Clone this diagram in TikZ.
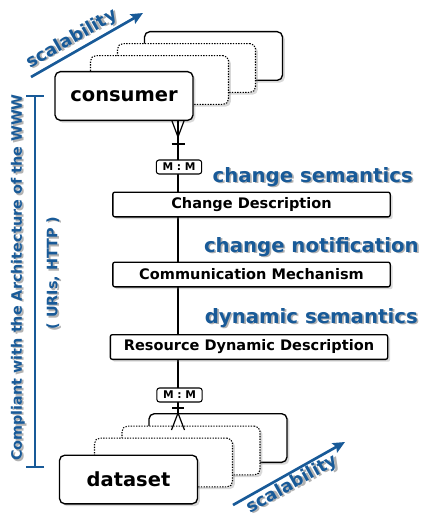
\documentclass[tikz,border=0pt]{standalone}
\usepackage{fontspec}
\setmainfont{DejaVu Sans}
\usetikzlibrary{positioning}
\usetikzlibrary{shadows}
\usetikzlibrary{arrows.meta}
\definecolor{wwwblue}{RGB}{24,90,152}
\tikzset{entity/.style={draw,line width=1pt,rounded corners=4pt,fill=white,minimum width=103.5pt,minimum height=36.5pt,font=\bfseries\fontsize{14.6}{16}\selectfont,drop shadow={shadow xshift=1.8pt,shadow yshift=-1.8pt,opacity=.3}}}
\tikzset{ghost/.style={entity,densely dotted,line width=.8pt}}
\tikzset{layer/.style={draw,line width=1pt,rounded corners=1.5pt,fill=white,minimum width=208pt,minimum height=18.5pt,inner sep=1pt,font=\bfseries\fontsize{10.9}{12}\selectfont,drop shadow={shadow xshift=1.8pt,shadow yshift=-1.8pt,opacity=.3}}}
\tikzset{card/.style={draw,line width=.8pt,rounded corners=2pt,fill=white,inner sep=1pt,minimum width=34pt,minimum height=10.5pt,font=\bfseries\fontsize{8}{9}\selectfont}}
\tikzset{link/.style={line width=.9pt}}
\tikzset{aspect/.style={text=wwwblue,inner sep=0pt,font=\bfseries\fontsize{14.8}{16}\selectfont}}
\tikzset{note/.style={aspect,font=\bfseries\fontsize{10.8}{12}\selectfont}}
\tikzset{slogan/.style={aspect,font=\bfseries\fontsize{13.2}{15}\selectfont}}
\tikzset{textshade/.style={text=black,opacity=.3,xshift=1.3pt,yshift=-1.3pt}}
\tikzset{scalearrow/.style={wwwblue,line width=2pt,-{Stealth[length=9pt,width=8pt,inset=1.5pt]}}}
\tikzset{brace/.style={wwwblue,line width=1.5pt,{Bar[width=13.5pt]}-{Bar[width=13.5pt]}}}

\begin{document}
\begin{tikzpicture}[x=0.75pt,y=-0.75pt]
    \useasboundingbox (0,0) rectangle (422,517);
    % consumer stack, back to front
    \node[entity] (cback) at (213.5,56) {};
    \node[ghost] (cmid2) at (186.5,68) {};
    \node[ghost] (cmid1) at (159.5,80) {};
    \node[entity] (consumer) at (124,96) {consumer};
    % dataset stack, back to front
    \node[entity] (dback) at (218,438) {};
    \node[ghost] (dmid2) at (191,450.5) {};
    \node[ghost] (dmid1) at (163.5,462.5) {};
    \node[entity] (dataset) at (128.5,479.5) {dataset};
    % the link between both ends runs behind the layers
    \coordinate (axis) at (178,0);
    \draw[link] (consumer.south -| axis) -- (dback.north -| axis);
    \draw[link] (consumer.south -| axis) ++(-6,0) -- ++(6,16) -- ++(6,-16);
    \draw[link] (consumer.south -| axis) ++(-6.5,23) -- ++(13,0);
    \draw[link] (dback.north -| axis) ++(-6.5,17) -- ++(6.5,-17) -- ++(6.5,17);
    \draw[link] (dback.north -| axis) ++(-6,-5) -- ++(12,0);
    \node[card] (mmc) at (179,167) {M : M};
    \node[card] (mmd) at (179.5,395) {M : M};
    % layers
    \node[layer] (desc) at (251.5,204.5) {Change Description};
    \node[layer] (comm) at (251.5,274.5) {Communication Mechanism};
    \node[layer] (rdd) at (249,347) {Resource Dynamic Description};
    % aspects, each with its shade underneath
    \node[aspect,textshade,anchor=base east] (chsem-s) at (413,182) {change semantics};
    \node[aspect,anchor=base east] (chsem) at (413,182) {change semantics};
    \node[aspect,textshade,anchor=base east] (chnot-s) at (419,252) {change notification};
    \node[aspect,anchor=base east] (chnot) at (419,252) {change notification};
    \node[aspect,textshade,anchor=base east] (dysem-s) at (418,323) {dynamic semantics};
    \node[aspect,anchor=base east] (dysem) at (418,323) {dynamic semantics};
    % web architecture
    \coordinate (wtop) at (35,95);
    \coordinate (wbot) at (35,468);
    \draw[brace] (wtop) -- (wbot);
    \node[note,textshade,rotate=90] (www-s) at (18,277.5) {Compliant with the Architecture of the WWW};
    \node[note,rotate=90] (www) at (18,277.5) {Compliant with the Architecture of the WWW};
    \node[note,textshade,rotate=90] (uris-s) at (53,273) {(\ URIs,\ HTTP\ )};
    \node[note,rotate=90] (uris) at (53,273) {(\ URIs,\ HTTP\ )};
    % scalability
    \coordinate (up0) at (31,77);
    \coordinate (up1) at (143,13);
    \coordinate (dn0) at (233,505);
    \coordinate (dn1) at (345,442);
    \draw[scalearrow] (up0) -- (up1)
        node[slogan,textshade,pos=.42,sloped,above=2pt] (scup-s) {scalability}
        node[slogan,pos=.42,sloped,above=2pt] (scup) {scalability};
    \draw[scalearrow] (dn0) -- (dn1)
        node[slogan,textshade,pos=.48,sloped,below=1pt] (scdn-s) {scalability}
        node[slogan,pos=.48,sloped,below=1pt] (scdn) {scalability};
\end{tikzpicture}
\end{document}
